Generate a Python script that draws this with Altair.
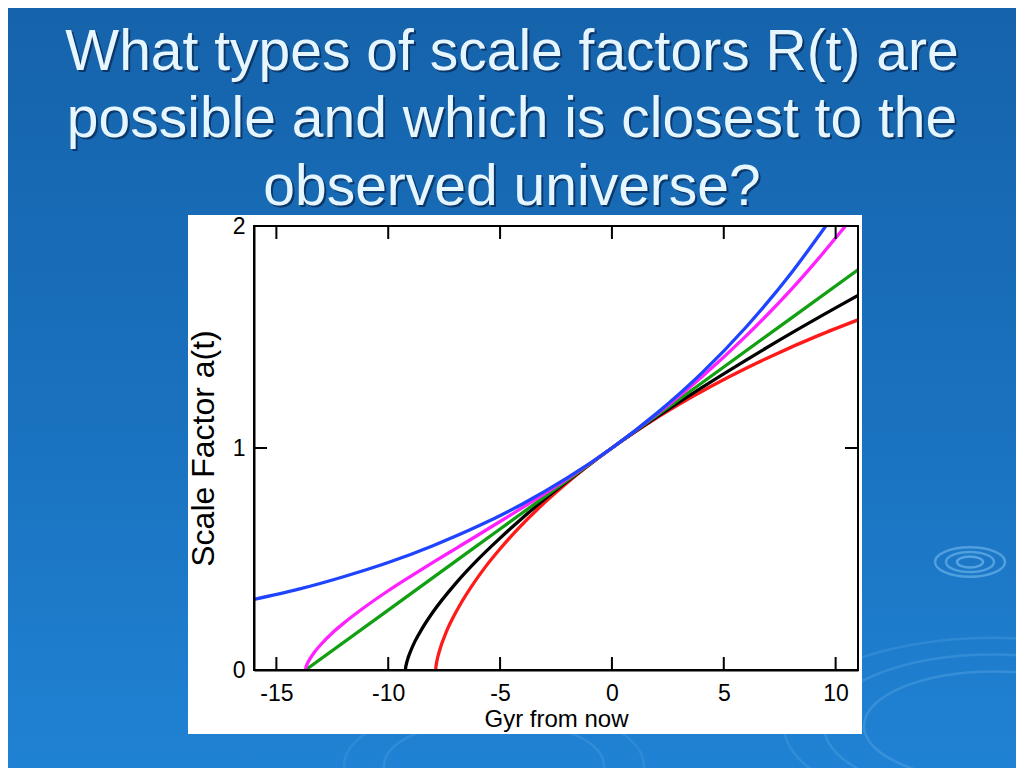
import altair as alt
import pandas as pd

# ---------------- text ----------------
title_lines = [
    "What types of scale factors R(t) are",
    "possible and which is closest to the",
    "observed universe?",
]
x_title = "Gyr from now"
y_title = "Scale Factor a(t)"

x_ticks = [-15, -10, -5, 0, 5, 10]
y_ticks = [0, 1, 2]

# ---------------- series ----------------
red_t = [-7.877, -7.875, -7.859, -7.815, -7.731, -7.389, -7.107, -6.737, -6.267, -5.689,
         -4.996, -4.179, -3.234, -2.156, 0.0, 1.898, 3.524, 5.284, 7.175, 9.191, 11.0]
red_a = [0.0, 0.005, 0.020, 0.045, 0.079, 0.175, 0.235, 0.303, 0.378, 0.460,
         0.546, 0.638, 0.733, 0.830, 1.0, 1.129, 1.227, 1.323, 1.416, 1.505, 1.577]

black_t = [-9.23, -9.22, -9.2, -9.1, -9.0, -8.8, -8.5, -8.0, -7.0, -6.0, -5.0, -4.0,
           -3.0, -2.0, -1.0, 0.0, 2.0, 4.0, 6.0, 8.0, 10.0, 11.0]
black_a = [0.0, 0.011, 0.022, 0.058, 0.085, 0.130, 0.184, 0.261, 0.388, 0.497, 0.594, 0.685,
           0.770, 0.850, 0.926, 1.0, 1.140, 1.271, 1.396, 1.516, 1.631, 1.687]

green_t = [-13.7, -10.0, -5.0, 0.0, 5.0, 11.0]
green_a = [0.0, 0.270, 0.635, 1.0, 1.365, 1.803]

magenta_t = [-13.70, -13.68, -13.6, -13.5, -13.3, -13.0, -12.5, -12.0, -11.0, -10.0, -9.0,
             -8.0, -7.0, -6.0, -5.0, -4.0, -2.0, 0.0, 2.0, 4.0, 6.0, 8.0, 9.0, 10.44]
magenta_a = [0.0, 0.011, 0.032, 0.050, 0.080, 0.116, 0.167, 0.210, 0.287, 0.357, 0.422,
             0.485, 0.546, 0.607, 0.669, 0.731, 0.861, 1.0, 1.152, 1.319, 1.505, 1.712, 1.826, 2.0]

blue_t = [-16.0, -14.0, -12.0, -10.0, -8.0, -6.0, -4.0, -2.0, 0.0, 2.0, 4.0, 6.0, 8.0, 9.56]
blue_a = [0.318, 0.364, 0.420, 0.484, 0.560, 0.647, 0.748, 0.865, 1.0, 1.156, 1.336, 1.545, 1.786, 2.0]

series = [
    ("#ff1a1a", red_t, red_a),
    ("#000000", black_t, black_a),
    ("#12a012", green_t, green_a),
    ("#ff22ff", magenta_t, magenta_a),
    ("#1f44ff", blue_t, blue_a),
]

# ---------------- layout ----------------
W, H = 604, 444
PAD_L, PAD_T, PAD_R, PAD_B = 246, 218, 158, 98
FONT = "Liberation Sans"
TICK_LEN = 13
TITLE_CX = 258  # slide centre, relative to plot origin

label_expr = "datum.value < 0 ? '-' + abs(datum.value) : '' + datum.value"

x_axis = alt.Axis(
    values=x_ticks, title=x_title, grid=False, ticks=False, tickSize=0, zindex=2,
    domainColor="black", domainWidth=2, labelColor="black", labelFont=FONT,
    labelFontSize=23, labelPadding=12, labelFlush=False, labelExpr=label_expr,
    titleFont=FONT, titleFontSize=24, titleFontWeight="normal", titleColor="black",
    titleX=W / 2, titleY=56, titleAlign="center", titleBaseline="alphabetic",
)
y_axis = alt.Axis(
    values=y_ticks, title=y_title, grid=False, ticks=False, tickSize=0, zindex=2,
    domainColor="black", domainWidth=2, labelColor="black", labelFont=FONT,
    labelFontSize=23, labelPadding=9, labelFlush=False, labelExpr=label_expr,
    titleFont=FONT, titleFontSize=32, titleFontWeight="normal", titleColor="black",
    titleX=-41, titleY=H / 2, titleAngle=270, titleAlign="center",
    titleBaseline="alphabetic",
)
x_scale = alt.Scale(domain=[-16, 11], nice=False, zero=False)
y_scale = alt.Scale(domain=[0, 2], nice=False, zero=False)


def xenc(field):
    return alt.X(f"{field}:Q", scale=x_scale, axis=x_axis)


def yenc(field):
    return alt.Y(f"{field}:Q", scale=y_scale, axis=y_axis)


one = pd.DataFrame({"k": [0]})

gradient = alt.Gradient(
    gradient="linear",
    stops=[alt.GradientStop(color="#1563ab", offset=0),
           alt.GradientStop(color="#1a72bf", offset=0.55),
           alt.GradientStop(color="#2082d4", offset=1)],
    x1=0, x2=0, y1=0, y2=1,
)

layers = []
layers.append(
    alt.Chart(one).mark_rect(fill=gradient).encode(
        x=alt.value(-PAD_L), x2=alt.value(W + PAD_R),
        y=alt.value(-PAD_T), y2=alt.value(H + PAD_B))
)

# faint water-ripple decoration of the slide background
ELLIPSE = "M -1 0 A 1 0.42 0 1 0 1 0 A 1 0.42 0 1 0 -1 0 Z"
ripples = [  # (x, y relative to plot origin, width px, opacity)
    (716, 336, 70, 0.55), (716, 336, 48, 0.55), (716, 336, 26, 0.6),
    (740, 500, 260, 0.25), (740, 500, 340, 0.22), (740, 500, 420, 0.18),
    (240, 540, 220, 0.18), (240, 540, 300, 0.15),
]
for rx, ry, rw, op in ripples:
    layers.append(
        alt.Chart(one).mark_point(
            shape=ELLIPSE, size=rw * rw, filled=False, stroke="#7cc0f2",
            strokeWidth=2.5, opacity=op,
        ).encode(x=alt.value(rx), y=alt.value(ry))
    )

layers.append(
    alt.Chart(one).mark_rect(fill="white").encode(
        x=alt.value(-66), x2=alt.value(W + 4),
        y=alt.value(-11), y2=alt.value(H + 64))
)

# title (shadow + text)
baselines = [-156, -89, -21]
for line, yb in zip(title_lines, baselines):
    layers.append(
        alt.Chart(one).mark_text(
            font=FONT, fontSize=57, align="center", baseline="alphabetic",
            color="#0b2f5c", dx=2, dy=2, opacity=0.85,
        ).encode(x=alt.value(TITLE_CX), y=alt.value(yb), text=alt.value(line))
    )
    layers.append(
        alt.Chart(one).mark_text(
            font=FONT, fontSize=57, align="center", baseline="alphabetic",
            color="#e6f6ff",
        ).encode(x=alt.value(TITLE_CX), y=alt.value(yb), text=alt.value(line))
    )

# curves
for color, ts, as_ in series:
    df = pd.DataFrame({"t": ts, "a": as_})
    layers.append(
        alt.Chart(df).mark_line(color=color, strokeWidth=3.3, interpolate="monotone", clip=True)
        .encode(x=xenc("t"), y=yenc("a"))
    )

# inward ticks on all four sides
xt = pd.DataFrame({"v": x_ticks})
yt = pd.DataFrame({"v": y_ticks})
rule = dict(color="black", strokeWidth=2)
layers.append(alt.Chart(xt).mark_rule(**rule).encode(
    x=xenc("v"), y=alt.value(H), y2=alt.value(H - TICK_LEN)))
layers.append(alt.Chart(xt).mark_rule(**rule).encode(
    x=xenc("v"), y=alt.value(0), y2=alt.value(TICK_LEN)))
layers.append(alt.Chart(yt).mark_rule(**rule).encode(
    y=yenc("v"), x=alt.value(0), x2=alt.value(TICK_LEN)))
layers.append(alt.Chart(yt).mark_rule(**rule).encode(
    y=yenc("v"), x=alt.value(W), x2=alt.value(W - TICK_LEN)))

# plot frame
layers.append(
    alt.Chart(one).mark_rect(fillOpacity=0, stroke="black", strokeWidth=2).encode(
        x=alt.value(0), x2=alt.value(W), y=alt.value(0), y2=alt.value(H))
)

chart = alt.layer(*layers).properties(
    width=W, height=H,
    autosize=alt.AutoSizeParams(type="none"),
    padding={"left": PAD_L, "top": PAD_T, "right": PAD_R, "bottom": PAD_B},
    background="#1a6fb8",
).configure_view(stroke=None)

chart.save("out.html", embed_options={"renderer": "svg", "actions": False})
